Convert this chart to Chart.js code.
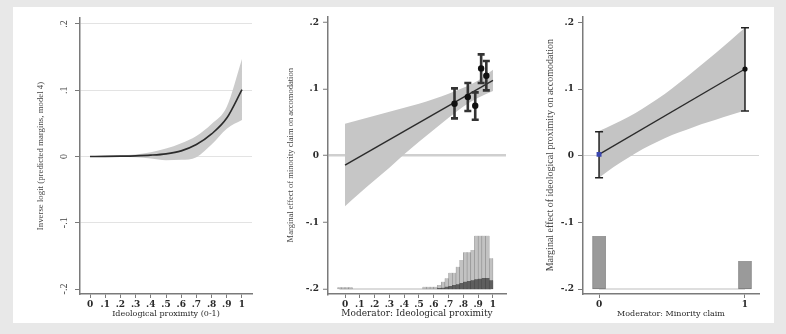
<!DOCTYPE html>
<html lang="en">
<head>
<meta charset="UTF-8" />
<title>Marginal effects</title>
<style>
  body { margin: 0; background: #e8e8e8; width: 786px; height: 334px; position: relative; overflow: hidden; }
  .frame { position: absolute; left: 13px; top: 7px; width: 761px; height: 316px; background: #fff; }
  .panel { position: absolute; top: 0; height: 316px; }
</style>
</head>
<body>
<div class="frame">
  <div class="panel" style="left:0;width:250px"><canvas id="c1"></canvas></div>
  <div class="panel" style="left:250px;width:260px"><canvas id="c2"></canvas></div>
  <div class="panel" style="left:510px;width:251px"><canvas id="c3"></canvas></div>
</div>
<script src="https://cdn.jsdelivr.net/npm/chart.js"></script>
<script>
  const yTicks = [-0.2, -0.1, 0, 0.1, 0.2];
  const propTicks = [0, 0.1, 0.2, 0.3, 0.4, 0.5, 0.6, 0.7, 0.8, 0.9, 1];
  const claimTicks = [0, 1];
  const histBase = -0.2;

  // panel 1: predicted margins
  const p1X = [0, 0.1, 0.2, 0.3, 0.4, 0.5, 0.6, 0.7, 0.8, 0.9, 1];
  const p1Fit = [0, 0.0002, 0.0005, 0.001, 0.002, 0.004, 0.0085, 0.018, 0.034, 0.058, 0.101];
  const p1Hi = [0.0005, 0.0009, 0.0016, 0.003, 0.0065, 0.012, 0.02, 0.031, 0.049, 0.075, 0.147];
  const p1Lo = [-0.0005, -0.0005, -0.0006, -0.0012, -0.003, -0.0055, -0.005, -0.001, 0.018, 0.042, 0.055];

  // panel 2: effect of minority claim by ideological proximity
  const p2BandX = [0, 0.1, 0.2, 0.3, 0.4, 0.5, 0.6, 0.7, 0.8, 0.9, 1];
  const p2Hi = [0.048, 0.054, 0.06, 0.066, 0.072, 0.078, 0.085, 0.093, 0.102, 0.113, 0.129];
  const p2Lo = [-0.076, -0.056, -0.037, -0.018, 0.002, 0.021, 0.039, 0.057, 0.074, 0.087, 0.097];
  const p2LineX = [0, 1];
  const p2LineY = [-0.014, 0.113];
  const p2PtX = [0.74, 0.83, 0.88, 0.92, 0.955];
  const p2PtY = [0.078, 0.088, 0.075, 0.131, 0.12];
  const p2PtLo = [0.056, 0.067, 0.054, 0.109, 0.098];
  const p2PtHi = [0.101, 0.109, 0.095, 0.152, 0.142];
  const p2HistX = [-0.0375, -0.0125, 0.0125, 0.0375, 0.5375, 0.5625, 0.5875, 0.6125, 0.6375, 0.6625,
    0.6875, 0.7125, 0.7375, 0.7625, 0.7875, 0.8125, 0.8375, 0.8625, 0.8875, 0.9125, 0.9375, 0.9625, 0.9875];
  const p2HistAll = [-0.1975, -0.1975, -0.1975, -0.1975, -0.1968, -0.1968, -0.1968, -0.1966, -0.194, -0.189,
    -0.184, -0.1756, -0.1756, -0.1667, -0.1565, -0.145, -0.145, -0.1415, -0.12, -0.12, -0.12, -0.12, -0.154];
  const p2DarkX = [0.6375, 0.6625, 0.6875, 0.7125, 0.7375, 0.7625, 0.7875, 0.8125, 0.8375, 0.8625,
    0.8875, 0.9125, 0.9375, 0.9625, 0.9875];
  const p2HistDark = [-0.1985, -0.198, -0.1965, -0.1955, -0.194, -0.193, -0.191, -0.189, -0.188, -0.187,
    -0.1855, -0.1845, -0.1835, -0.1835, -0.187];

  // panel 3: effect of ideological proximity by minority claim
  const p3BandX = [0, 0.1, 0.2, 0.3, 0.4, 0.5, 0.6, 0.7, 0.8, 0.9, 1];
  const p3Hi = [0.037, 0.047, 0.058, 0.071, 0.085, 0.101, 0.118, 0.136, 0.154, 0.173, 0.192];
  const p3Lo = [-0.033, -0.017, -0.003, 0.01, 0.021, 0.031, 0.039, 0.047, 0.054, 0.061, 0.068];
  const p3LineX = [0, 1];
  const p3LineY = [0.002, 0.13];
  const p3PtX = [0, 1];
  const p3PtY = [0.002, 0.13];
  const p3PtLo = [-0.033, 0.067];
  const p3PtHi = [0.036, 0.192];
  const p3HistX = [0, 1];
  const p3HistTop = [-0.1205, -0.158];

  const xy = (xs, ys) => xs.map((x, i) => ({ x: x, y: ys[i] }));
  const bars = (xs, tops) => xs.map((x, i) => ({ x: x, y: [histBase, tops[i]] }));

  function stataLabel(v) {
    if (Math.abs(v) < 1e-9) return "0";
    let s = Math.abs(v).toFixed(1);
    s = s.startsWith("0") ? s.slice(1) : s.replace(/\.0$/, "");
    return (v < 0 ? "-" : "") + s;
  }

  // error bars drawn just before the point dataset, through the chart scales
  const errorBars = {
    id: "errorBars",
    beforeDatasetDraw(chart, args) {
      const ds = chart.data.datasets[args.index];
      if (!ds.errLo) return;
      const { ctx, scales: { x, y } } = chart;
      ctx.save();
      ctx.strokeStyle = ds.errColor;
      ctx.lineWidth = ds.errWidth;
      ds.data.forEach((p, j) => {
        const px = x.getPixelForValue(p.x);
        const lo = y.getPixelForValue(ds.errLo[j]);
        const hi = y.getPixelForValue(ds.errHi[j]);
        const c = ds.errCap;
        ctx.beginPath();
        ctx.moveTo(px, lo); ctx.lineTo(px, hi);
        ctx.moveTo(px - c, lo); ctx.lineTo(px + c, lo);
        ctx.moveTo(px - c, hi); ctx.lineTo(px + c, hi);
        ctx.stroke();
      });
      ctx.restore();
    }
  };

  const axisGrey = "#7a7a7a";
  const textCol = "#2a2a2a";

  function makeOptions(cfg) {
    return {
      responsive: true,
      maintainAspectRatio: false,
      animation: false,
      devicePixelRatio: 1,
      layout: { padding: { top: 9, right: cfg.padRight, left: 0, bottom: 0 } },
      plugins: { legend: { display: false }, tooltip: { enabled: false } },
      scales: {
        x: {
          type: "linear",
          min: cfg.xMin,
          max: cfg.xMax,
          offset: false,
          afterBuildTicks: s => { s.ticks = cfg.xTicks.map(v => ({ value: v })); },
          afterFit: s => { s.height = 29; },
          border: { color: axisGrey, width: 1.5 },
          grid: { drawOnChartArea: false, offset: false, tickLength: 4, tickColor: axisGrey, tickWidth: 1 },
          ticks: {
            callback: v => stataLabel(v),
            maxRotation: 0, minRotation: 0, padding: 1, color: textCol,
            font: { family: "DejaVu Serif", size: 9, weight: "bold" }
          },
          title: {
            display: true, text: cfg.xTitle, color: textCol,
            padding: { top: 0, bottom: 4 },
            font: { family: "DejaVu Serif", size: cfg.xTitleSize }
          }
        },
        y: {
          min: -0.2075,
          max: 0.209,
          afterBuildTicks: s => { s.ticks = yTicks.map(v => ({ value: v })); },
          afterFit: s => { s.width = cfg.yWidth; },
          border: { color: axisGrey, width: 1.5 },
          grid: {
            color: cfg.gridColor,
            lineWidth: cfg.gridWidth,
            tickLength: 5, tickColor: axisGrey, tickWidth: 1
          },
          ticks: cfg.yTickOpts,
          title: {
            display: true, text: cfg.yTitle, color: "#444",
            padding: { top: cfg.yTitlePad, bottom: 0 },
            font: { family: "Liberation Serif", size: cfg.yTitleSize }
          }
        }
      }
    };
  }

  const flatTicks = {
    callback: v => stataLabel(v), padding: 4, color: textCol,
    font: { family: "DejaVu Serif", size: 9, weight: "bold" }
  };

  // panel 1
  new Chart(document.getElementById("c1"), {
    type: "line",
    data: {
      datasets: [
        { data: xy(p1X, p1Fit), borderColor: "#2b2b2b", borderWidth: 1.6, pointRadius: 0, cubicInterpolationMode: "monotone", fill: false },
        { data: xy(p1X, p1Hi), borderWidth: 0, pointRadius: 0, cubicInterpolationMode: "monotone", fill: "+1", backgroundColor: "#cbcbcb" },
        { data: xy(p1X, p1Lo), borderWidth: 0, pointRadius: 0, cubicInterpolationMode: "monotone", fill: false }
      ]
    },
    options: makeOptions({
      padRight: 11, yWidth: 67, xMin: -0.066, xMax: 1.066, xTicks: propTicks,
      xTitle: "Ideological proximity (0-1)", xTitleSize: 8,
      yTitle: "Inverse logit (predicted margins, model 4)", yTitleSize: 8.8, yTitlePad: 22,
      gridColor: c => (c.tick && c.tick.value > -0.15) ? "#e3e3e3" : "rgba(0,0,0,0)",
      gridWidth: 1,
      yTickOpts: {
        callback: v => stataLabel(v), padding: 5, color: "#444", minRotation: 90, maxRotation: 90,
        crossAlign: "center",
        font: { family: "Liberation Serif", size: 10 }
      }
    })
  });

  // panel 2
  new Chart(document.getElementById("c2"), {
    type: "line",
    plugins: [errorBars],
    data: {
      datasets: [
        { data: xy(p2PtX, p2PtY), showLine: false, pointRadius: 3.2, pointBackgroundColor: "#111", pointBorderWidth: 0,
          errLo: p2PtLo, errHi: p2PtHi, errColor: "#333", errWidth: 2.6, errCap: 3.5 },
        { data: xy(p2LineX, p2LineY), borderColor: "#2b2b2b", borderWidth: 1.4, pointRadius: 0, fill: false },
        { data: xy(p2BandX, p2Hi), borderWidth: 0, pointRadius: 0, cubicInterpolationMode: "monotone", fill: "+1", backgroundColor: "#c6c6c6" },
        { data: xy(p2BandX, p2Lo), borderWidth: 0, pointRadius: 0, cubicInterpolationMode: "monotone", fill: false },
        { type: "bar", data: bars(p2DarkX, p2HistDark), grouped: false, barPercentage: 1, categoryPercentage: 1,
          backgroundColor: "#5e5e5e", borderColor: "#444", borderWidth: 0.5 },
        { type: "bar", data: bars(p2HistX, p2HistAll), grouped: false, barPercentage: 1, categoryPercentage: 1,
          backgroundColor: "#c2c2c2", borderColor: "#8a8a8a", borderWidth: 0.6 },
        { data: [{ x: p2HistX[0], y: histBase }, { x: p2HistX[p2HistX.length - 1], y: histBase }],
          borderColor: "#cfcfcf", borderWidth: 1.5, pointRadius: 0, fill: false }
      ]
    },
    options: makeOptions({
      padRight: 17, yWidth: 65, xMin: -0.115, xMax: 1.088, xTicks: propTicks,
      xTitle: "Moderator: Ideological proximity", xTitleSize: 9,
      yTitle: "Marginal effect of minority claim on accomodation", yTitleSize: 8.5, yTitlePad: 23,
      gridColor: c => (c.tick && c.tick.value === 0) ? "#cfcfcf" : "rgba(0,0,0,0)",
      gridWidth: 2.5,
      yTickOpts: flatTicks
    })
  });

  // panel 3
  new Chart(document.getElementById("c3"), {
    type: "line",
    plugins: [errorBars],
    data: {
      datasets: [
        { data: xy(p3PtX, p3PtY), showLine: false, pointStyle: ["rect", "circle"], pointRadius: [3.5, 2.6],
          pointBackgroundColor: ["#3a46b0", "#111"], pointBorderWidth: 0,
          errLo: p3PtLo, errHi: p3PtHi, errColor: "#222", errWidth: 1.5, errCap: 4 },
        { data: xy(p3LineX, p3LineY), borderColor: "#2b2b2b", borderWidth: 1.3, pointRadius: 0, fill: false },
        { data: xy(p3BandX, p3Hi), borderWidth: 0, pointRadius: 0, cubicInterpolationMode: "monotone", fill: "+1", backgroundColor: "#c4c4c4" },
        { data: xy(p3BandX, p3Lo), borderWidth: 0, pointRadius: 0, cubicInterpolationMode: "monotone", fill: false },
        { type: "bar", data: bars(p3HistX, p3HistTop), grouped: false, barThickness: 13,
          backgroundColor: "#9a9a9a", borderColor: "#7a7a7a", borderWidth: 1 },
        { data: [{ x: p3HistX[0], y: histBase }, { x: p3HistX[1], y: histBase }],
          borderColor: "#d3d3d3", borderWidth: 1.5, pointRadius: 0, fill: false }
      ]
    },
    options: makeOptions({
      padRight: 15, yWidth: 60, xMin: -0.11, xMax: 1.096, xTicks: claimTicks,
      xTitle: "Moderator: Minority claim", xTitleSize: 8,
      yTitle: "Marginal effect of ideological proximity on accomodation", yTitleSize: 10, yTitlePad: 21,
      gridColor: c => (c.tick && c.tick.value === 0) ? "#d6d6d6" : "rgba(0,0,0,0)",
      gridWidth: 1,
      yTickOpts: flatTicks
    })
  });
</script>
</body>
</html>
